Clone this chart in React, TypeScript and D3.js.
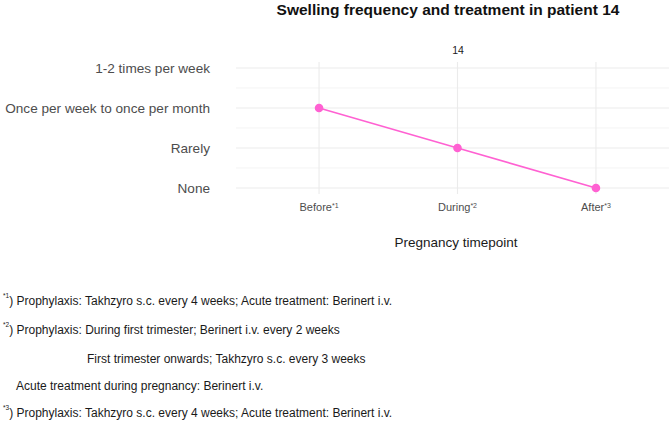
import React, { useEffect, useRef } from 'react';
import * as d3 from 'd3';

// chart data
const levels = ['None', 'Rarely', 'Once per week to once per month', '1-2 times per week'];
const timepoints = ['Before', 'During', 'After'];
const timepointMarks = ['*1', '*2', '*3'];
const frequency = ['Once per week to once per month', 'Rarely', 'None'];
const patient = '14';

const footMarks = ['*1', '*2', '', '', '*3'];
const footTexts = [
  ') Prophylaxis: Takhzyro s.c. every 4 weeks; Acute treatment: Berinert i.v.',
  ') Prophylaxis: During first trimester; Berinert i.v. every 2 weeks',
  'First trimester onwards; Takhzyro s.c. every 3 weeks',
  'Acute treatment during pregnancy: Berinert i.v.',
  ') Prophylaxis: Takhzyro s.c. every 4 weeks; Acute treatment: Berinert i.v.',
];
const footIndent = [0, 0, 84, 13, 0];

const W = 669;
const H = 423;
const font = "'Liberation Sans', Arial, sans-serif";

export default function App() {
  const ref = useRef<SVGSVGElement>(null);

  useEffect(() => {
    const svg = d3.select(ref.current);
    svg.selectAll('*').remove();

    // panel (right side cut off like the original)
    const left = 236, right = 679, top = 62, bottom = 194;
    const x = d3.scalePoint<string>().domain(timepoints).range([left, right]).padding(0.6);
    const y = d3.scaleLinear().domain([-0.15, 3.15]).range([bottom, top]);
    const major = d3.range(levels.length);
    const minor = major.slice(0, -1).map((d) => d + 0.5);

    const grid = svg.append('g');
    grid.selectAll('.minor').data(minor).enter().append('line')
      .attr('x1', left).attr('x2', right)
      .attr('y1', (d) => y(d)).attr('y2', (d) => y(d))
      .attr('stroke', '#ececec').attr('stroke-width', 0.6);
    grid.selectAll('.major').data(major).enter().append('line')
      .attr('x1', left).attr('x2', right)
      .attr('y1', (d) => y(d)).attr('y2', (d) => y(d))
      .attr('stroke', '#ebebeb').attr('stroke-width', 1.1);
    grid.selectAll('.vert').data(timepoints).enter().append('line')
      .attr('x1', (d) => x(d)!).attr('x2', (d) => x(d)!)
      .attr('y1', top).attr('y2', bottom)
      .attr('stroke', '#ebebeb').attr('stroke-width', 1.1);

    // y labels
    svg.append('g').selectAll('text').data(levels).enter().append('text')
      .attr('x', 210).attr('y', (d, i) => y(i)).attr('dy', '0.35em')
      .attr('text-anchor', 'end')
      .style('font', `13.6px ${font}`).attr('fill', '#4d4d4d')
      .text((d) => d);

    // x labels
    const xl = svg.append('g').selectAll('text').data(timepoints).enter().append('text')
      .attr('x', (d) => x(d)!).attr('y', 207).attr('dy', '0.35em')
      .attr('text-anchor', 'middle')
      .style('font', `11px ${font}`).attr('fill', '#4d4d4d');
    xl.append('tspan').text((d) => d);
    xl.append('tspan').attr('font-size', 7).attr('dy', '-0.45em')
      .text((d, i) => timepointMarks[i]);

    // line and points
    const pts = frequency.map((f, i) => [x(timepoints[i])!, y(levels.indexOf(f))] as [number, number]);
    svg.append('path').datum(pts)
      .attr('d', d3.line())
      .attr('fill', 'none').attr('stroke', '#ff61d2').attr('stroke-width', 1.6);
    svg.append('g').selectAll('circle').data(pts).enter().append('circle')
      .attr('cx', (d) => d[0]).attr('cy', (d) => d[1]).attr('r', 4.3)
      .attr('fill', '#ff61d2');

    // titles
    svg.append('text').attr('x', 448).attr('y', 15)
      .attr('text-anchor', 'middle')
      .style('font', `bold 15.5px ${font}`).attr('fill', '#111')
      .text('Swelling frequency and treatment in patient ' + patient);
    svg.append('text').attr('x', 458).attr('y', 50).attr('dy', '0.35em')
      .attr('text-anchor', 'middle')
      .style('font', `10.5px ${font}`).attr('fill', '#1a1a1a')
      .text(patient);
    svg.append('text').attr('x', 456).attr('y', 242).attr('dy', '0.35em')
      .attr('text-anchor', 'middle')
      .style('font', `13.5px ${font}`).attr('fill', '#1a1a1a')
      .text('Pregnancy timepoint');

    // footnotes
    const rows = [302, 331, 359, 386, 414];
    const fn = svg.append('g').selectAll('text').data(footTexts).enter().append('text')
      .attr('x', (d, i) => 3 + footIndent[i]).attr('y', (d, i) => rows[i]).attr('dy', '0.35em')
      .style('font', `12px ${font}`).attr('fill', '#1a1a1a');
    fn.append('tspan').attr('font-size', 6.5).attr('dy', '-0.6em')
      .text((d, i) => footMarks[i]);
    fn.append('tspan').attr('dy', (d, i) => (footMarks[i] ? '0.6em' : null))
      .text((d) => d);
  }, []);

  return (
    <svg ref={ref} width={W} height={H}
      style={{ position: 'absolute', left: 0, top: 0, background: '#fff' }} />
  );
}
